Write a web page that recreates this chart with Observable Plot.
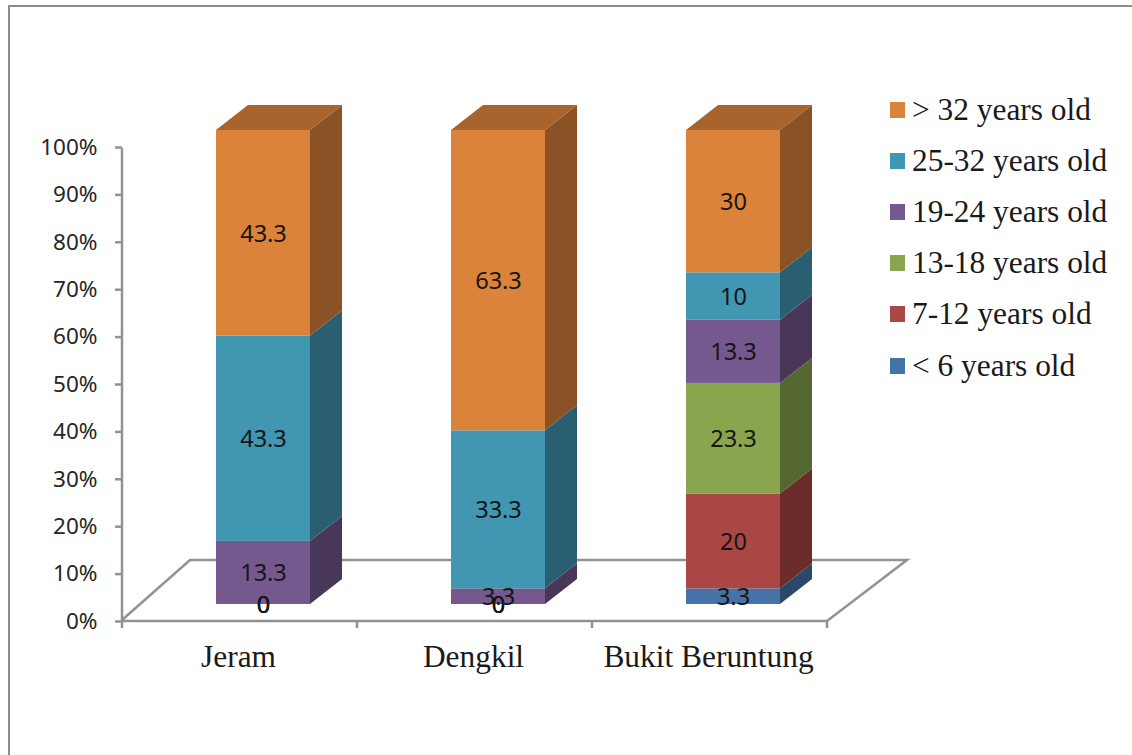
<!DOCTYPE html>
<html><head><meta charset="utf-8">
<script src="https://cdn.jsdelivr.net/npm/d3@7"></script>
<script src="https://cdn.jsdelivr.net/npm/@observablehq/plot@0.6"></script>
<style>
html,body{margin:0;padding:0;background:#fff;overflow:hidden}
#wrap{position:relative;width:1132px;height:755px}
#frame{position:absolute;left:8px;top:5px;right:-4px;bottom:-4px;border:2px solid #8c8c8c}
#legend{position:absolute;left:890px;top:84px;font-family:"Liberation Serif",serif;font-size:31.4px;color:#1a1a1a}
#legend .it{display:flex;align-items:center;height:51.2px;white-space:nowrap}
#legend .sw{width:15px;height:16px;margin-right:7px}
svg{position:absolute;left:0;top:0;background:transparent!important}
</style></head><body>
<div id="wrap"><div id="frame"></div><div id="chart"></div><div id="legend"></div></div>
<script>
const sites = ["Jeram", "Dengkil", "Bukit Beruntung"];
const series = ["< 6 years old", "7-12 years old", "13-18 years old", "19-24 years old", "25-32 years old", "> 32 years old"];
const colors = ["#4572A7", "#AA4643", "#89A54E", "#74588E", "#4197B1", "#DB823B"];
const jeram = [0, 0, 0, 13.3, 43.3, 43.3];
const dengkil = [0, 0, 0, 3.3, 33.3, 63.3];
const bukit = [3.3, 20, 23.3, 13.3, 10, 30];
const tableValues = [jeram, dengkil, bukit];

const rows = sites.flatMap((site, i) => series.map((s, j) => ({site, series: s, value: tableValues[i][j]})));
const GREY = "#929292";
const ns = "http://www.w3.org/2000/svg";
const barDx = 23, barDy = -16, depthX = 32, depthY = -25;
const floorDx = 68, floorDy = -60, floorBackRight = 80;

function el(name, attrs) {
  const e = document.createElementNS(ns, name);
  for (const k in attrs) e.setAttribute(k, attrs[k]);
  return e;
}
function shade(c, k) {
  const r = d3.rgb(c);
  return d3.rgb(r.r * k, r.g * k, r.b * k).formatHex();
}
function floor(index, scales, values, dims) {
  const g = el("g", {fill: "none", stroke: GREY, "stroke-width": 2.5});
  const x0 = dims.marginLeft, x1 = dims.width - dims.marginRight, y0 = scales.y(0);
  g.appendChild(el("polyline", {points: `${x0},${y0} ${x0 + floorDx},${y0 + floorDy} ${x1 + floorBackRight},${y0 + floorDy} ${x1},${y0 + 1} ${x0},${y0 + 1}`}));
  g.appendChild(el("line", {x1: x0, x2: x0, y1: scales.y(1) + 2, y2: y0}));
  d3.range(sites.length + 1).forEach(i => {
    const x = x0 + i * (x1 - x0) / sites.length;
    g.appendChild(el("line", {x1: x, x2: x, y1: y0, y2: y0 + 8}));
  });
  return g;
}
function extrude(index, scales, values, dims, ctx, next) {
  const g = next(index, scales, values, dims, ctx);
  const bw = scales.x.bandwidth();
  const faces = el("g", {});
  for (const i of index) {
    const xl = values.x[i], xr = xl + bw;
    const top = values.y2[i], bot = values.y1[i];
    const yt = Math.min(top, bot), yb = Math.max(top, bot);
    const fill = values.fill ? values.fill[i] : null;
    faces.appendChild(el("polygon", {
      points: `${xr},${yt} ${xr + depthX},${yt + depthY} ${xr + depthX},${yb + depthY} ${xr},${yb}`,
      fill: shade(fill, 0.63)
    }));
    if (rows[i].series === series[series.length - 1]) {
      faces.appendChild(el("polygon", {
        points: `${xl},${yt} ${xl + depthX},${yt + depthY} ${xr + depthX},${yt + depthY} ${xr},${yt}`,
        fill: shade(fill, 0.77)
      }));
    }
  }
  g.insertBefore(faces, g.firstChild);
  return g;
}

const chart = Plot.plot({
  width: 1132, height: 755,
  marginLeft: 122, marginRight: 305, marginTop: 146, marginBottom: 135,
  style: {background: "transparent"},
  x: {domain: sites, paddingInner: 0.6, paddingOuter: 0.3, label: null},
  y: {domain: [0, 1], label: null},
  color: {domain: series, range: colors},
  marks: [
    floor,
    Plot.axisY({ticks: d3.range(0, 1.01, 0.1), tickFormat: d3.format(".0%"), tickSize: 7, stroke: GREY, strokeWidth: 2.5, tickPadding: 18,
      fontSize: 22.5, fontFamily: "Noto Sans", fill: "#262626", label: null, textStroke: "none", dy: 1}),
    Plot.axisX({tickSize: 0, tickPadding: 24, fontSize: 31.4, fontFamily: "Liberation Serif", fill: "#1a1a1a", label: null, dx: -2}),
    Plot.barY(rows, Plot.stackY({offset: "normalize", x: "site", y: "value", z: "series", fill: "series", order: null,
      dx: barDx, dy: barDy, render: extrude})),
    Plot.text(rows, Plot.stackY({offset: "normalize", x: "site", y: "value", z: "series", order: null, text: d => String(d.value),
      dx: barDx, dy: barDy + 1, fontSize: 23.5, fontFamily: "Noto Sans", fill: "#161616"}))
  ]
});
document.getElementById("chart").appendChild(chart);

const legend = document.getElementById("legend");
series.slice().reverse().forEach((s, i) => {
  const it = document.createElement("div"); it.className = "it";
  const sw = document.createElement("div"); sw.className = "sw";
  sw.style.background = colors[series.length - 1 - i];
  const t = document.createElement("span"); t.textContent = s;
  it.append(sw, t); legend.append(it);
});
</script></body></html>
